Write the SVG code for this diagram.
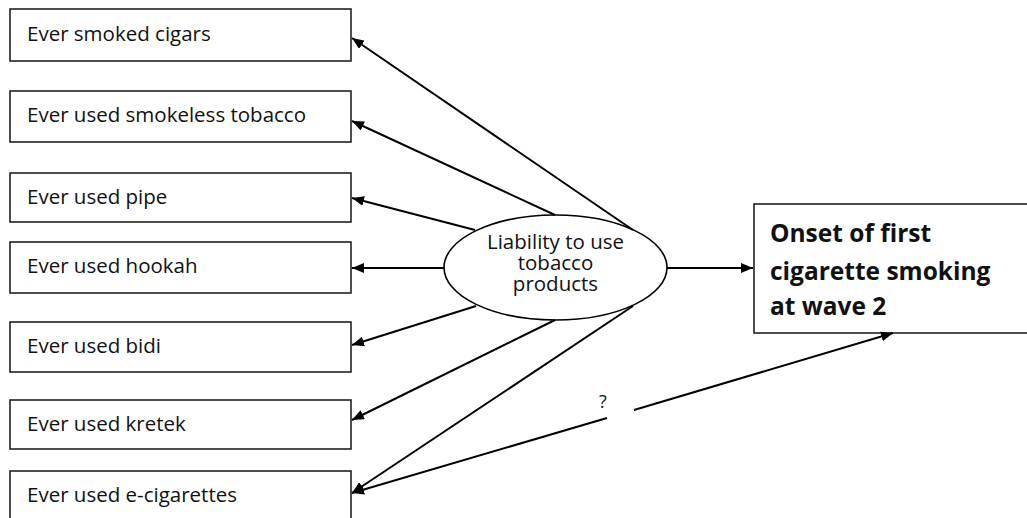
<svg xmlns="http://www.w3.org/2000/svg" width="1027" height="518" viewBox="0 0 1027 518">
<style>
.box{fill:#fff;stroke:#222;stroke-width:1.6}
.lbl{font-family:"Open Sans",Lato,sans-serif;font-size:20.5px;fill:#111}
.big{font-family:"Open Sans",Lato,sans-serif;font-size:24.5px;font-weight:bold;fill:#111}
.ell{font-family:"Open Sans",Lato,sans-serif;font-size:20.5px;fill:#111;text-anchor:middle}
.conn line{stroke:#000;stroke-width:2;marker-end:url(#ah)}
</style>
<defs>
<marker id="ah" markerUnits="userSpaceOnUse" markerWidth="12" markerHeight="10" refX="12" refY="5" orient="auto">
<path d="M0,0 L12,5 L0,10 z" fill="#000"/>
</marker>
</defs>
<rect width="1027" height="518" fill="#fff"/>
<g id="n-cigars"><rect class="box" x="10" y="9" width="341" height="52"/><text class="lbl" x="27" y="41">Ever smoked cigars</text></g>
<g id="n-smokeless"><rect class="box" x="10" y="91" width="341" height="51"/><text class="lbl" x="27" y="122">Ever used smokeless tobacco</text></g>
<g id="n-pipe"><rect class="box" x="10" y="173" width="341" height="49"/><text class="lbl" x="27" y="204">Ever used pipe</text></g>
<g id="n-hookah"><rect class="box" x="10" y="242" width="341" height="51"/><text class="lbl" x="27" y="273">Ever used hookah</text></g>
<g id="n-bidi"><rect class="box" x="10" y="322" width="341" height="50"/><text class="lbl" x="27" y="353">Ever used bidi</text></g>
<g id="n-kretek"><rect class="box" x="10" y="400" width="341" height="49"/><text class="lbl" x="27" y="431">Ever used kretek</text></g>
<g id="n-ecig"><rect class="box" x="10" y="471" width="341" height="60"/><text class="lbl" x="27" y="502">Ever used e-cigarettes</text></g>
<g id="n-liability"><ellipse cx="555.5" cy="267.5" rx="111.5" ry="52.5" fill="#fff" stroke="#000" stroke-width="1.6"/>
<text class="ell" x="555.5" y="249">Liability to use</text>
<text class="ell" x="555.5" y="270">tobacco</text>
<text class="ell" x="555.5" y="290.5">products</text></g>
<g id="n-onset"><rect class="box" x="754" y="204" width="285" height="129"/>
<text class="big" x="770" y="242">Onset of first</text>
<text class="big" x="770" y="280">cigarette smoking</text>
<text class="big" x="770" y="315">at wave 2</text></g>
<g id="connectors" class="conn">
<line x1="633" y1="230" x2="352" y2="38"/>
<line x1="555" y1="215" x2="352" y2="121"/>
<line x1="475" y1="230" x2="352" y2="198"/>
<line x1="444" y1="268" x2="352" y2="268"/>
<line x1="476" y1="306" x2="352" y2="345"/>
<line x1="555" y1="320" x2="352" y2="420"/>
<line x1="633" y1="306" x2="352" y2="493"/>
<line x1="667" y1="268" x2="753" y2="268"/>
<line x1="607" y1="418" x2="352" y2="493"/>
<line x1="634" y1="410" x2="893" y2="333"/>
<text x="603" y="408" style="font-family:'Open Sans',Lato,sans-serif;font-size:18px;fill:#111;text-anchor:middle">?</text>
</g>
</svg>
